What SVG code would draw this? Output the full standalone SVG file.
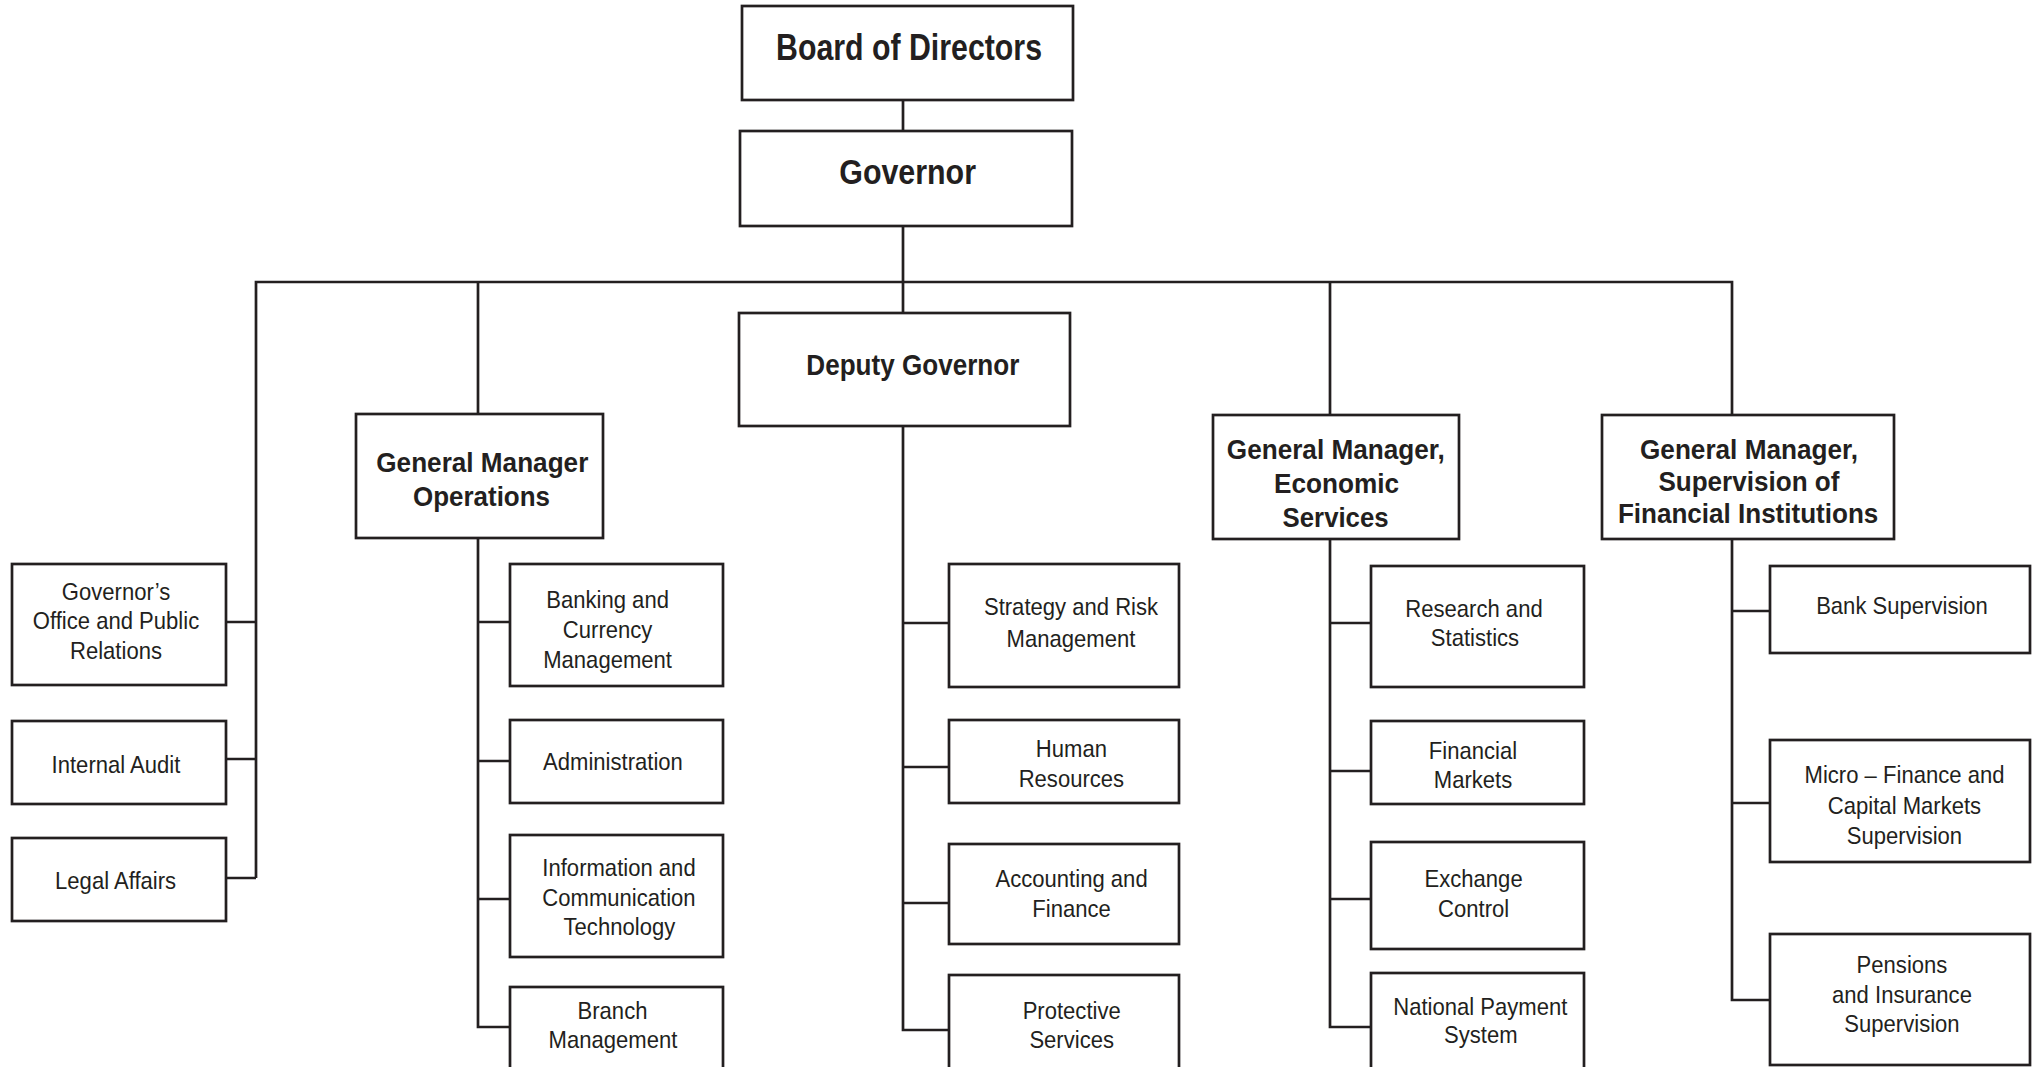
<svg xmlns="http://www.w3.org/2000/svg" width="2041" height="1067" viewBox="0 0 2041 1067">
<style>
.box{fill:#fff;stroke:#231f20;stroke-width:2.7}
.ln{fill:none;stroke:#231f20;stroke-width:2.7;stroke-linejoin:miter}
.t{font-family:"Liberation Sans",Arial,sans-serif;font-size:24px;fill:#231f20;text-anchor:middle;transform:scale(0.92,1);transform-origin:0 0}
.b{font-family:"Liberation Sans",Arial,sans-serif;font-weight:bold;fill:#231f20;text-anchor:start}
</style>
<rect width="2041" height="1067" fill="#fff"/>
<g id="connectors">
<path class="ln" d="M903,100 V131"/>
<path class="ln" d="M903,226 V313"/>
<path class="ln" d="M256,878 V282 H1732 V415"/>
<path class="ln" d="M478,282 V414"/>
<path class="ln" d="M1330,282 V415"/>
<path class="ln" d="M226,622 H256 M226,759 H256 M226,878 H256"/>
<path class="ln" d="M478,538 V1027 H510 M478,622 H510 M478,761 H510 M478,899 H510"/>
<path class="ln" d="M903,426 V1030 H949 M903,623 H949 M903,767 H949 M903,903 H949"/>
<path class="ln" d="M1330,539 V1027 H1371 M1330,623 H1371 M1330,771 H1371 M1330,899 H1371"/>
<path class="ln" d="M1732,539 V1000 H1770 M1732,611 H1770 M1732,803 H1770"/>
</g>
<g id="board"><rect class="box" x="742" y="6" width="331" height="94"/><text class="b" x="776" y="60" font-size="36" textLength="266" lengthAdjust="spacingAndGlyphs">Board of Directors</text></g>
<g id="governor"><rect class="box" x="740" y="131" width="332" height="95"/><text class="b" x="839.3" y="184.3" font-size="35" textLength="136.7" lengthAdjust="spacingAndGlyphs">Governor</text></g>
<g id="deputy"><rect class="box" x="739" y="313" width="331" height="113"/><text class="b" x="806.3" y="375" font-size="30" textLength="213" lengthAdjust="spacingAndGlyphs">Deputy Governor</text></g>
<g id="gm-ops"><rect class="box" x="356" y="414" width="247" height="124"/><text class="b" x="376.3" y="472.3" font-size="28" textLength="212" lengthAdjust="spacingAndGlyphs">General Manager</text><text class="b" x="413" y="506" font-size="28" textLength="137" lengthAdjust="spacingAndGlyphs">Operations</text></g>
<g id="gm-econ"><rect class="box" x="1213" y="415" width="246" height="124"/><text class="b" x="1226.8" y="459.3" font-size="28" textLength="218" lengthAdjust="spacingAndGlyphs">General Manager,</text><text class="b" x="1274" y="493.3" font-size="28" textLength="125" lengthAdjust="spacingAndGlyphs">Economic</text><text class="b" x="1282.6" y="526.7" font-size="28" textLength="106" lengthAdjust="spacingAndGlyphs">Services</text></g>
<g id="gm-sup"><rect class="box" x="1602" y="415" width="292" height="124"/><text class="b" x="1640" y="459" font-size="28" textLength="218" lengthAdjust="spacingAndGlyphs">General Manager,</text><text class="b" x="1658.4" y="491" font-size="28" textLength="181" lengthAdjust="spacingAndGlyphs">Supervision of</text><text class="b" x="1617.9" y="523.3" font-size="28" textLength="260.4" lengthAdjust="spacingAndGlyphs">Financial Institutions</text></g>
<g id="gov-office"><rect class="box" x="12" y="564" width="214" height="121"/><text class="t" x="126.09" y="600">Governor’s</text><text class="t" x="126.09" y="629.5">Office and Public</text><text class="t" x="126.09" y="659">Relations</text></g>
<g id="internal-audit"><rect class="box" x="12" y="721" width="214" height="83"/><text class="t" x="126.09" y="772.7">Internal Audit</text></g>
<g id="legal-affairs"><rect class="box" x="12" y="838" width="214" height="83"/><text class="t" x="125.65" y="888.7">Legal Affairs</text></g>
<g id="banking"><rect class="box" x="510" y="564" width="213" height="122"/><text class="t" x="660.43" y="608.3">Banking and</text><text class="t" x="660.43" y="638.5">Currency</text><text class="t" x="660.43" y="668.3">Management</text></g>
<g id="administration"><rect class="box" x="510" y="720" width="213" height="83"/><text class="t" x="666.3" y="770">Administration</text></g>
<g id="ict"><rect class="box" x="510" y="835" width="213" height="122"/><text class="t" x="672.83" y="875.7">Information and</text><text class="t" x="672.83" y="905.7">Communication</text><text class="t" x="673.26" y="935.3">Technology</text></g>
<g id="branch"><rect class="box" x="510" y="987" width="213" height="95"/><text class="t" x="665.76" y="1019.3">Branch</text><text class="t" x="666.3" y="1048.3">Management</text></g>
<g id="strategy"><rect class="box" x="949" y="564" width="230" height="123"/><text class="t" x="1164.13" y="615">Strategy and Risk</text><text class="t" x="1164.13" y="646.7">Management</text></g>
<g id="human-resources"><rect class="box" x="949" y="720" width="230" height="83"/><text class="t" x="1164.57" y="756.7">Human</text><text class="t" x="1164.57" y="787">Resources</text></g>
<g id="accounting"><rect class="box" x="949" y="844" width="230" height="100"/><text class="t" x="1164.78" y="886.7">Accounting and</text><text class="t" x="1164.78" y="917.3">Finance</text></g>
<g id="protective"><rect class="box" x="949" y="975" width="230" height="107"/><text class="t" x="1164.89" y="1019.3">Protective</text><text class="t" x="1164.89" y="1048.3">Services</text></g>
<g id="research"><rect class="box" x="1371" y="566" width="213" height="121"/><text class="t" x="1602.17" y="616.7">Research and</text><text class="t" x="1603.26" y="646">Statistics</text></g>
<g id="financial-markets"><rect class="box" x="1371" y="721" width="213" height="83"/><text class="t" x="1601.09" y="759">Financial</text><text class="t" x="1601.09" y="788.3">Markets</text></g>
<g id="exchange-control"><rect class="box" x="1371" y="842" width="213" height="107"/><text class="t" x="1601.74" y="886.7">Exchange</text><text class="t" x="1601.74" y="917.3">Control</text></g>
<g id="national-payment"><rect class="box" x="1371" y="973" width="213" height="109"/><text class="t" x="1609.02" y="1015">National Payment</text><text class="t" x="1609.57" y="1043.3">System</text></g>
<g id="bank-supervision"><rect class="box" x="1770" y="566" width="260" height="87"/><text class="t" x="2067.39" y="614">Bank Supervision</text></g>
<g id="micro-finance"><rect class="box" x="1770" y="740" width="260" height="122"/><text class="t" x="2070.11" y="783.3">Micro – Finance and</text><text class="t" x="2070.11" y="814">Capital Markets</text><text class="t" x="2070.11" y="844">Supervision</text></g>
<g id="pensions"><rect class="box" x="1770" y="934" width="260" height="131"/><text class="t" x="2067.39" y="973.3">Pensions</text><text class="t" x="2067.39" y="1003.3">and Insurance</text><text class="t" x="2067.39" y="1032">Supervision</text></g>
</svg>
